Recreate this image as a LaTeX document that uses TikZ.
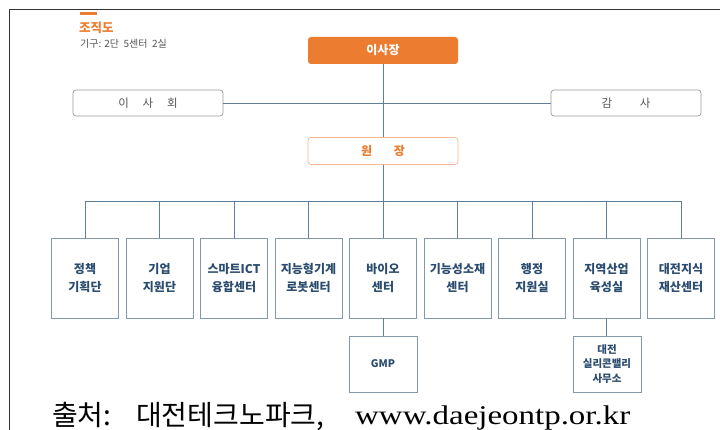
\documentclass[tikz,border=0pt]{standalone}
\usepackage{fontspec}
\setmainfont{Liberation Serif}
\newfontfamily\kr{Noto Sans CJK KR}
\newfontfamily\srcfont[FakeStretch=1.22]{Liberation Serif}
\definecolor{orng}{HTML}{EC7C30}
\definecolor{navy}{HTML}{2B4C6F}
\definecolor{bline}{HTML}{5F7F9C}
\definecolor{bbox}{HTML}{8298AC}
\definecolor{gbox}{HTML}{9A9A9A}
\definecolor{gtxt}{HTML}{555555}
\begin{document}
\begin{tikzpicture}[x=1pt,y=-1pt,
  conn/.style={draw=bline,line width=0.8pt},
  unit/.style={draw=bbox,line width=0.7pt,minimum width=67pt,minimum height=80pt,inner sep=0pt,align=center,font=\kr\bfseries\fontsize{12}{18.5}\selectfont,text=navy},
  subunit/.style={draw=bbox,line width=0.7pt,minimum width=68pt,minimum height=56pt,inner sep=0pt,align=center,font=\kr\bfseries\fontsize{10.5}{14.5}\selectfont,text=navy},
  toprole/.style={rounded corners=3pt,minimum width=150pt,minimum height=27pt,inner sep=0pt,font=\kr\bfseries\fontsize{12}{14}\selectfont},
  side/.style={draw=gbox,line width=0.7pt,rounded corners=3pt,minimum width=150pt,minimum height=26pt,inner sep=0pt,font=\kr\fontsize{11.5}{13}\selectfont,text=gtxt},
  srck/.style={anchor=base west,inner sep=0pt,font=\kr\fontsize{28}{30}\selectfont}]
\useasboundingbox (0,0) rectangle (720,430);
\fill[white] (0,0) rectangle (720,430);
% frame
\draw[line width=1.5pt,draw=black!80] (9.5,430) -- (9.5,9.5) -- (720,9.5);
% header
\fill[orng] (80,12.5) rectangle (97,15);
\node[anchor=west,inner sep=0pt,text=orng,font=\kr\bfseries\fontsize{12.5}{14}\selectfont] (title) at (79,28) {조직도};
\node[anchor=west,inner sep=0pt,text=gtxt,font=\kr\fontsize{10}{12}\selectfont] (sub) at (80,44) {기구: 2단\ \ 5센터\ \ 2실};
% top roles
\node[toprole,fill=orng,text=white] (chair) at (383,50.5) {이사장};
\node[side] (board) at (148,103) {이\hspace{1.2em}사\hspace{1.2em}회};
\node[side] (audit) at (626,103) {감\hspace{2.4em}사};
\node[toprole,draw=orng!55,line width=0.7pt,fill=white,text=orng] (pres) at (383,151) {원\hspace{1.8em}장};
\draw[conn] (board) -- (audit);
\draw[conn] (chair) -- (pres);
% units
\foreach \i/\t [count=\k from 0] in {u1/{정책\\기획단},u2/{기업\\지원단},u3/{스마트ICT\\융합센터},u4/{지능형기계\\로봇센터},u5/{바이오\\센터},u6/{기능성소재\\센터},u7/{행정\\지원실},u8/{지역산업\\육성실},u9/{대전지식\\재산센터}}{
  \node[unit] (\i) at (85+74.5*\k,278) {\t};
}
\coordinate (bus) at (383,202);
\draw[conn] (pres) -- (bus);
\draw[conn] (u1.north) -- ++(0,-36) -| (u9.north);
\foreach \i in {u2,u3,u4,u5,u6,u7,u8}{
  \draw[conn] (\i.north) -- ++(0,-36);
}
\node[subunit] (gmp) at (383,364) {GMP};
\node[subunit] (svo) at (607,364) {대전\\실리콘밸리\\사무소};
\draw[conn] (u5) -- (gmp);
\draw[conn] (u8.south) -- (u8.south |- svo.north);
% source
\node[srck] (src1) at (52,425) {출처:};
\node[srck] (src2) at (136,425) {대전테크노파크,};
\node[anchor=base west,inner sep=0pt,font=\srcfont\fontsize{27}{30}\selectfont] (src3) at (355,424) {www.daejeontp.or.kr};
\end{tikzpicture}
\end{document}
